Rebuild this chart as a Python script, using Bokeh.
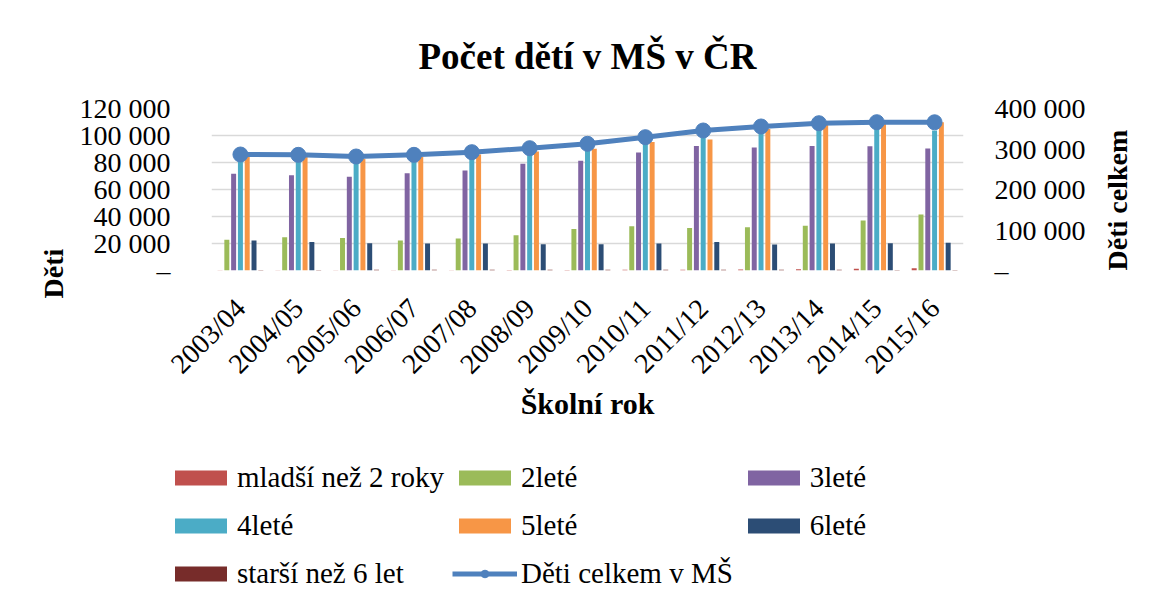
import math
from bokeh.plotting import figure
from bokeh.models import (FactorRange, Range1d, LinearAxis, FixedTicker, Legend,
                          LegendItem, Title, ColumnDataSource)
from bokeh.transform import dodge
from bokeh.embed import file_html
from bokeh.resources import INLINE

# ---------------- data ----------------
years = ["2003/04", "2004/05", "2005/06", "2006/07", "2007/08", "2008/09", "2009/10",
         "2010/11", "2011/12", "2012/13", "2013/14", "2014/15", "2015/16"]

under_2 = [200, 200, 200, 200, 200, 300, 400, 500, 600, 700, 900, 1300, 1600]
age_2 = [22700, 24700, 24000, 22200, 23700, 26200, 30800, 32800, 31400, 32100, 33100, 37000, 41500]
age_3 = [71600, 70600, 69400, 72100, 74100, 79000, 81300, 87400, 92300, 91100, 92300, 92100, 90400]
age_4 = [83300, 83200, 82000, 83300, 85200, 87300, 89400, 94300, 98500, 104000, 106000, 105400, 103700]
age_5 = [84200, 84000, 82700, 84000, 85900, 88100, 90100, 95100, 97000, 104900, 108100, 108600, 109900]
age_6 = [22200, 21200, 20200, 20000, 20000, 19500, 19500, 20000, 21200, 19300, 20000, 20200, 20500]
over_6 = [400, 400, 500, 500, 500, 600, 600, 600, 500, 500, 500, 400, 400]
total = [286400, 285600, 281500, 285600, 292200, 302000, 312800, 329200, 345700, 355600, 363700, 366200, 366000]

series_keys = ["under_2", "age_2", "age_3", "age_4", "age_5", "age_6", "over_6"]
series_labels = ["mladší než 2 roky", "2leté", "3leté", "4leté", "5leté", "6leté", "starší než 6 let"]
series_colors = ["#c0504d", "#9bbb59", "#8064a2", "#4bacc6", "#f79646", "#2c4d75", "#772c2a"]
line_label = "Děti celkem v MŠ"
line_color = "#4f81bd"

left_ticks = [0, 20000, 40000, 60000, 80000, 100000, 120000]
left_tick_labels = ["–", "20 000", "40 000", "60 000", "80 000", "100 000", "120 000"]
right_ticks = [0, 100000, 200000, 300000, 400000]
right_tick_labels = ["–", "100 000", "200 000", "300 000", "400 000"]

title_text = "Počet dětí v MŠ v ČR"
x_title = "Školní rok"
y_title = "Děti"
y2_title = "Děti celkem"

FONT = "Liberation Serif"
MAIN_H = 440
LEG_H = 165

# ---------------- main figure ----------------
p = figure(x_range=FactorRange(factors=years, range_padding=0),
           y_range=Range1d(0, 120000),
           width=1153, height=MAIN_H, output_backend="svg", toolbar_location=None,
           min_border_left=211, min_border_right=190, min_border_top=108,
           min_border_bottom=MAIN_H - 270, title=title_text)
p.outline_line_color = None
p.background_fill_color = "white"
p.border_fill_color = "white"

p.title.align = "center"
p.title.text_font = FONT
p.title.text_font_size = "37px"
p.title.text_font_style = "bold"
p.title.text_color = "black"
p.title.standoff = 64

p.xgrid.grid_line_color = None
p.ygrid.ticker = FixedTicker(ticks=left_ticks)
p.ygrid.grid_line_color = "#d9d9d9"
p.ygrid.grid_line_width = 1.5

for ax in p.yaxis:
    ax.ticker = FixedTicker(ticks=left_ticks)
    ax.major_label_overrides = dict(zip(left_ticks, left_tick_labels))
    ax.axis_line_color = None
    ax.major_tick_line_color = None
    ax.minor_tick_line_color = None
    ax.major_label_standoff = 35
    ax.major_label_text_font = FONT
    ax.major_label_text_font_size = "28px"
    ax.major_label_text_color = "black"

for ax in p.xaxis:
    ax.axis_line_color = None
    ax.major_tick_line_color = None
    ax.minor_tick_line_color = None
    ax.major_label_orientation = math.pi / 4
    ax.major_label_standoff = 27
    ax.major_label_text_font = FONT
    ax.major_label_text_font_size = "28px"
    ax.major_label_text_color = "black"
    ax.axis_label = x_title
    ax.axis_label_text_font = FONT
    ax.axis_label_text_font_size = "30px"
    ax.axis_label_text_font_style = "bold"
    ax.axis_label_text_color = "black"
    ax.axis_label_standoff = -6

p.extra_y_ranges = {"total": Range1d(0, 400000)}
rax = LinearAxis(y_range_name="total", ticker=FixedTicker(ticks=right_ticks))
rax.major_label_overrides = dict(zip(right_ticks, right_tick_labels))
rax.axis_line_color = None
rax.major_tick_line_color = None
rax.minor_tick_line_color = None
rax.major_label_standoff = 25
rax.major_label_text_font = FONT
rax.major_label_text_font_size = "28px"
rax.major_label_text_color = "black"
rax.axis_label = y2_title
rax.axis_label_text_font = FONT
rax.axis_label_text_font_size = "28px"
rax.axis_label_text_font_style = "bold"
rax.axis_label_text_color = "black"
rax.axis_label_standoff = 29
rax.axis_label_orientation = math.pi / 2
if "axis_label_align" in rax.properties():
    for _v in ("start", "left"):
        try:
            rax.axis_label_align = _v
            break
        except Exception:
            pass
p.add_layout(rax, "right")

# left axis title (shifted down as in the reference)
p.add_layout(Title(text=y_title, align="left", offset=-28, standoff=15,
                   text_font=FONT, text_font_size="28px", text_font_style="bold",
                   text_color="black"), "left")

# ---------------- bars & line ----------------
src = ColumnDataSource(dict(year=years, under_2=under_2, age_2=age_2, age_3=age_3,
                            age_4=age_4, age_5=age_5, age_6=age_6, over_6=over_6,
                            total=total))
pitch = 0.1175
bw = 0.086
for i, (key, col) in enumerate(zip(series_keys, series_colors)):
    p.vbar(x=dodge("year", (i - 3) * pitch, range=p.x_range), top=key, width=bw,
           source=src, fill_color=col, line_color=None)

p.line("year", "total", source=src, y_range_name="total", line_width=5, line_color=line_color)
p.scatter("year", "total", source=src, y_range_name="total", size=15,
          fill_color=line_color, line_color=line_color)

# ---------------- legend strip below the chart ----------------
# Same series as hidden proxies on a strip, so only the legend shows.
pl = figure(width=1153, height=LEG_H, output_backend="svg", toolbar_location=None,
            x_axis_location=None, y_axis_location=None, min_border=0,
            x_range=FactorRange(factors=years, range_padding=0),
            y_range=Range1d(-2_000_000, -1_000_000))
pl.outline_line_color = None
pl.grid.visible = False
pl.background_fill_color = "white"
pl.border_fill_color = "white"

items = []
for i, (key, lab, col) in enumerate(zip(series_keys, series_labels, series_colors)):
    r = pl.vbar(x=dodge("year", (i - 3) * pitch, range=pl.x_range), top=key, width=bw,
                source=src, fill_color=col, line_color=None, visible=False)
    items.append(LegendItem(label=lab, renderers=[r]))
rl = pl.line("year", "total", source=src, line_width=5, line_color=line_color, visible=False)
rs = pl.scatter("year", "total", source=src, size=15, fill_color=line_color,
                line_color=line_color, visible=False)
items.append(LegendItem(label=line_label, renderers=[rl, rs]))

legend = Legend(items=items, location=(168, 12), orientation="horizontal", ncols=3,
                glyph_width=65, glyph_height=19, label_standoff=4, label_height=40,
                spacing=8, padding=0, margin=0, border_line_color=None,
                background_fill_alpha=0, inactive_fill_alpha=0,
                label_text_font=FONT, label_text_font_size="29px",
                label_text_color="black")
pl.add_layout(legend)

open("out.html", "w").write(file_html([p, pl], INLINE))
